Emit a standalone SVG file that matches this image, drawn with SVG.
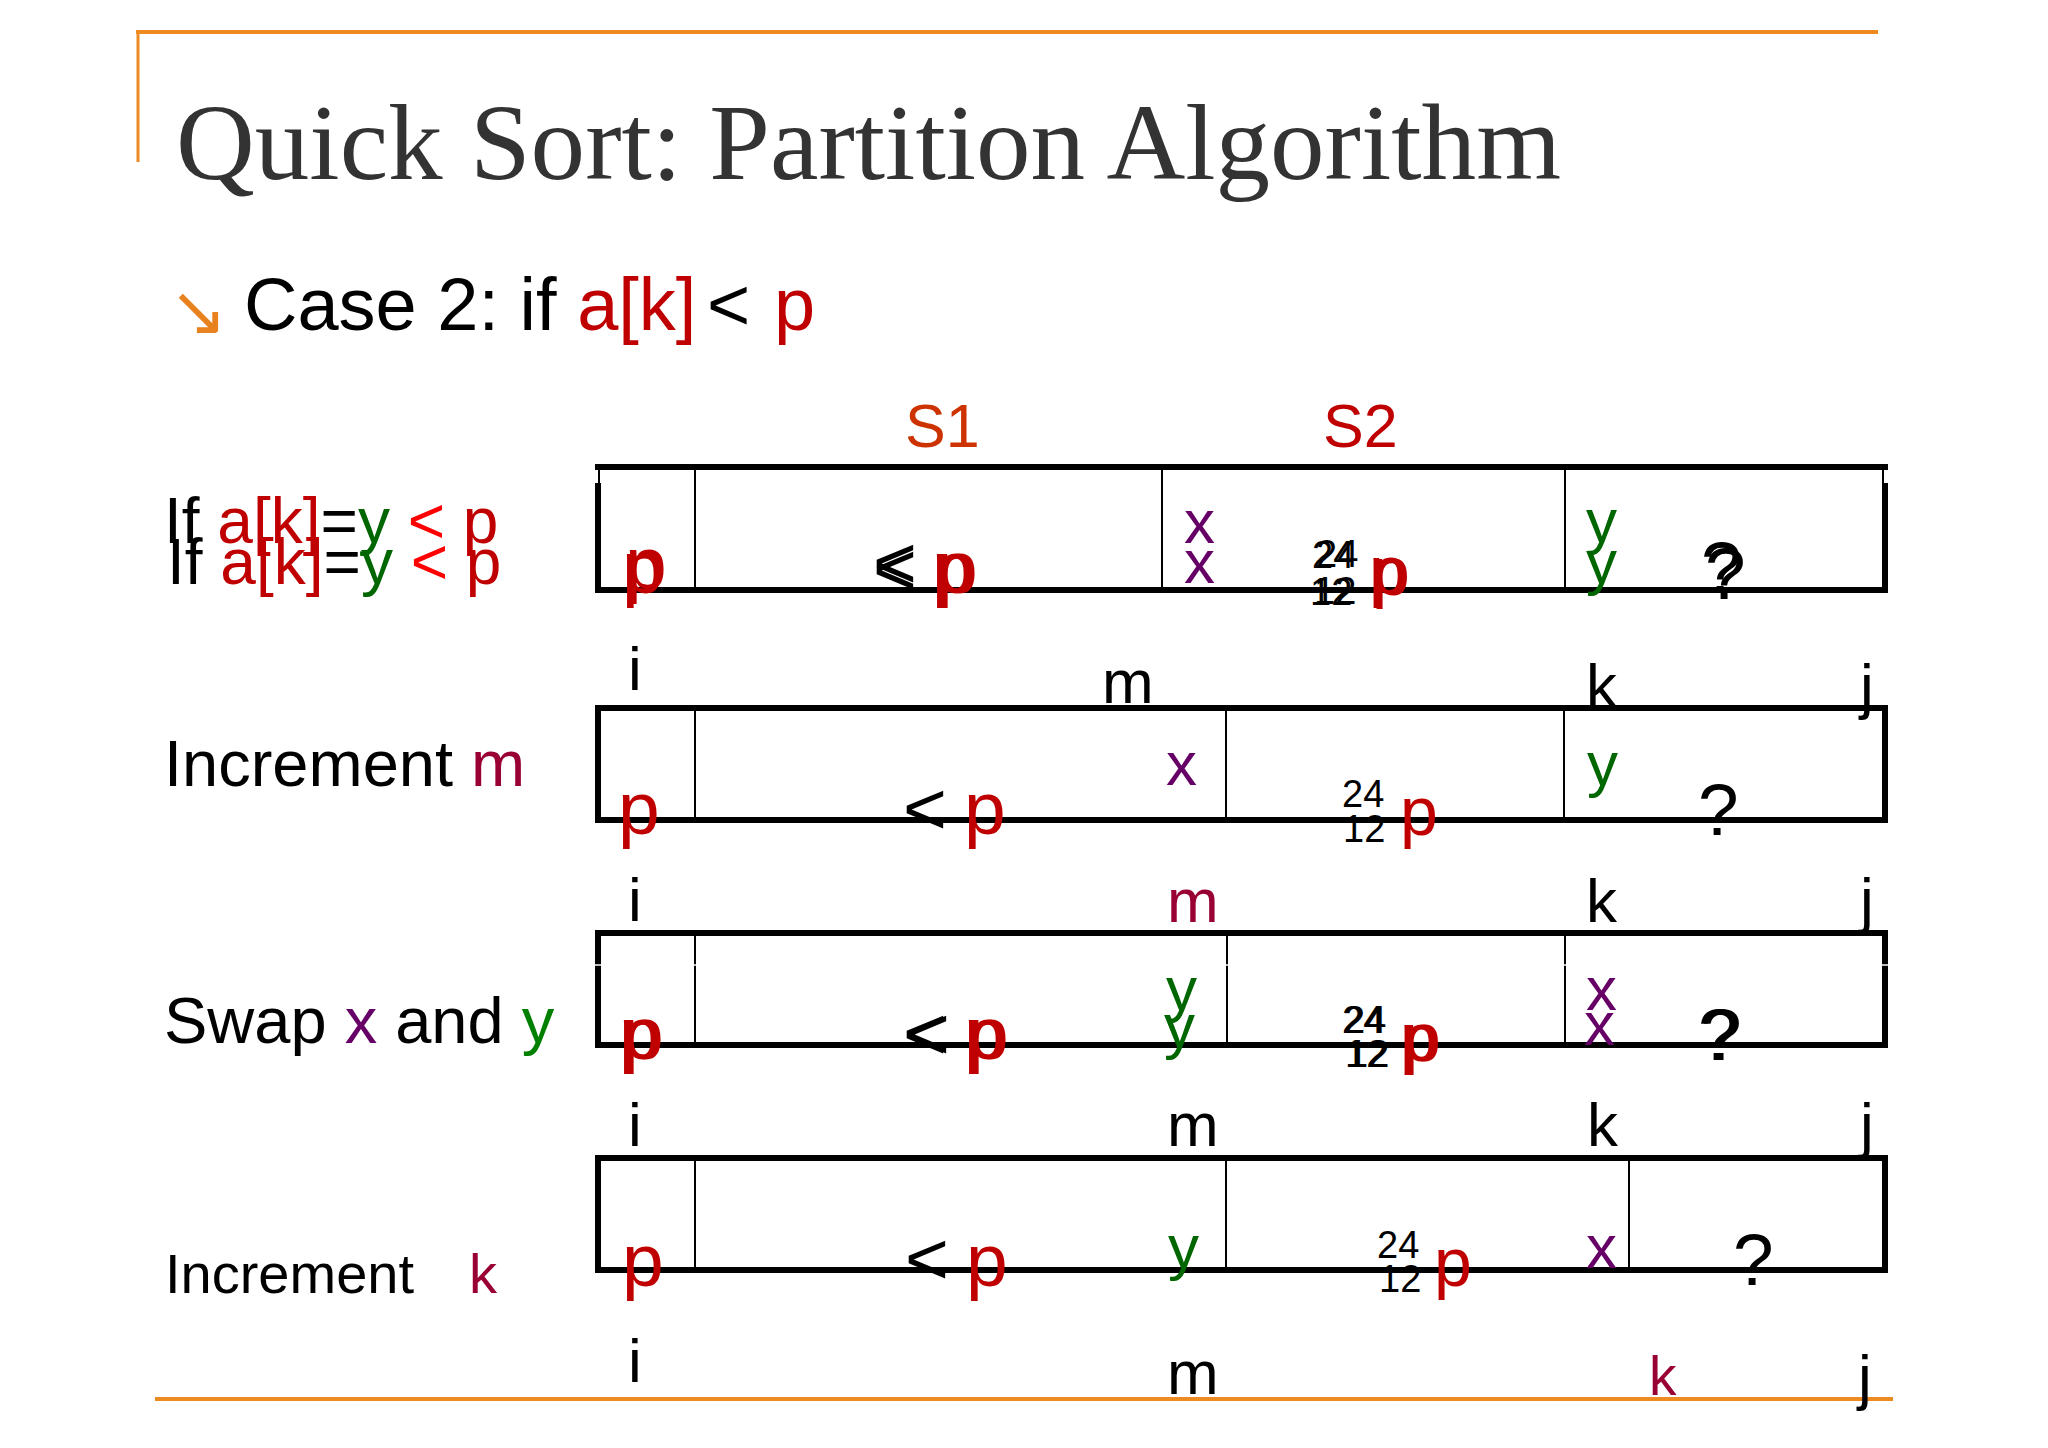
<svg xmlns="http://www.w3.org/2000/svg" width="2048" height="1448" viewBox="0 0 2048 1448">
<style>
text{font-family:"Liberation Sans",Arial,sans-serif;fill:#000}
.thick{stroke:#000;stroke-width:6;fill:none}
.thin{stroke:#000;stroke-width:2;fill:none}
.div{stroke:#000;stroke-width:2}
.wl{stroke:#fff;stroke-width:1.5}
.org{stroke:#EE8A22;fill:none}
.big{font-size:75px}
.pr{font-size:68px}
.q{font-size:73px}
.xy{font-size:62px}
.lab{font-size:62px}
.num{font-size:38px}
.red{fill:#C00000}
.bred{fill:#FF0000}
.pur{fill:#660066}
.grn{fill:#006600}
.lgrn{fill:#008000}
.dr{fill:#990033}
</style>
<rect width="2048" height="1448" fill="#fff"/>
<g id="frame">
<line class="org" x1="136" y1="32" x2="1878" y2="32" stroke-width="4"/>
<line class="org" x1="138" y1="30" x2="138" y2="162" stroke-width="3"/>
<line class="org" x1="155" y1="1399" x2="1893" y2="1399" stroke-width="4"/>
</g>
<g id="header">
<text x="176" y="179" font-family="Liberation Serif" style="font-family:'Liberation Serif',serif;fill:#333333" font-size="109" textLength="1385" lengthAdjust="spacingAndGlyphs">Quick Sort: Partition Algorithm</text>
<text x="169" y="335" style="font-family:'DejaVu Sans',sans-serif;fill:#E8821E" font-size="70">↘</text>
<text x="244" y="330" font-size="74">Case 2: if <tspan class="red">a[k]</tspan><tspan x="707">&lt; </tspan><tspan x="774" class="red">p</tspan></text>
<text x="905" y="447" font-size="61" style="fill:#CC3300">S1</text>
<text x="1323" y="447" font-size="61" class="red">S2</text>
</g>
<g id="row1">
<line class="thick" x1="595" y1="467" x2="1888" y2="467"/>
<line class="thick" x1="595" y1="590" x2="1888" y2="590"/>
<line class="thick" x1="598" y1="483" x2="598" y2="593"/>
<line class="thin" x1="599" y1="464" x2="599" y2="483"/>
<line class="thick" x1="1885" y1="483" x2="1885" y2="593"/>
<line class="thin" x1="1883" y1="464" x2="1883" y2="483"/>
<line class="div" x1="695" y1="467" x2="695" y2="590"/>
<line class="div" x1="1162" y1="467" x2="1162" y2="590"/>
<line class="div" x1="1565" y1="467" x2="1565" y2="590"/>
<text x="164" y="543" font-size="64">If <tspan class="red">a[k]</tspan>=<tspan class="grn">y</tspan> <tspan class="bred">&lt;</tspan> <tspan class="red">p</tspan></text>
<text x="167" y="584" font-size="64">If <tspan class="red">a[k]</tspan>=<tspan class="grn">y</tspan> <tspan class="bred">&lt;</tspan> <tspan class="red">p</tspan></text>
<text class="big red" x="622" y="593">p</text>
<text class="big red" x="625" y="589">p</text>
<text class="big" x="873" y="588">&lt;</text>
<text class="big" x="873" y="595">&lt;</text>
<text class="big red" x="932" y="593">p</text>
<text class="big red" x="936" y="593">p</text>
<text class="xy pur" x="1184" y="543">x</text>
<text class="xy pur" x="1184" y="583">x</text>
<text class="num" x="1312" y="568">24</text>
<text class="num" x="1316" y="567">24</text>
<text class="num" x="1310" y="605">12</text>
<text class="num" x="1314" y="604">12</text>
<text class="pr red" x="1369" y="594">p</text>
<text class="pr red" x="1372" y="595">p</text>
<text class="xy grn" x="1586" y="542">y</text>
<text class="xy grn" x="1586" y="583">y</text>
<text class="q" x="1701" y="593">?</text>
<text class="q" x="1705" y="599">?</text>
<text class="lab" x="628" y="690">i</text>
<text class="lab" x="1102" y="703">m</text>
<text class="lab" x="1586" y="707">k</text>
<text class="lab" x="1860" y="707">j</text>
</g>
<g id="row2">
<rect class="thick" x="598" y="708" width="1287" height="112"/>
<line class="div" x1="695" y1="708" x2="695" y2="820"/>
<line class="div" x1="1226" y1="708" x2="1226" y2="820"/>
<line class="div" x1="1564" y1="708" x2="1564" y2="820"/>
<text x="164" y="786" font-size="65">Increment <tspan class="dr">m</tspan></text>
<text class="big red" x="618" y="834">p</text>
<text class="big" x="903" y="834">&lt;</text>
<text class="big red" x="964" y="834">p</text>
<text class="xy pur" x="1166" y="785">x</text>
<text class="num" x="1342" y="807">24</text>
<text class="num" x="1343" y="842">12</text>
<text class="pr red" x="1400" y="835">p</text>
<text class="xy grn" x="1587" y="785">y</text>
<text class="q" x="1698" y="835">?</text>
<text class="lab" x="628" y="921">i</text>
<text class="lab dr" x="1167" y="922">m</text>
<text class="lab" x="1586" y="922">k</text>
<text class="lab" x="1860" y="921">j</text>
</g>
<g id="row3">
<rect class="thick" x="598" y="933" width="1287" height="112"/>
<line class="div" x1="695" y1="933" x2="695" y2="1045"/>
<line class="div" x1="1227" y1="933" x2="1227" y2="1045"/>
<line class="div" x1="1565" y1="933" x2="1565" y2="1045"/>
<line class="wl" x1="590" y1="965" x2="1892" y2="965"/>
<text x="164" y="1043" font-size="65">Swap <tspan class="pur">x</tspan> and <tspan class="lgrn">y</tspan></text>
<text class="big red" x="619" y="1059">p</text>
<text class="big red" x="622" y="1059">p</text>
<text class="big" x="903" y="1059">&lt;</text>
<text class="big" x="906" y="1059">&lt;</text>
<text class="big red" x="964" y="1059">p</text>
<text class="big red" x="967" y="1059">p</text>
<text class="xy grn" x="1166" y="1010">y</text>
<text class="xy grn" x="1164" y="1047">y</text>
<text class="num" x="1342" y="1033">24</text>
<text class="num" x="1344" y="1033">24</text>
<text class="num" x="1345" y="1067">12</text>
<text class="num" x="1347" y="1067">12</text>
<text class="pr red" x="1400" y="1061">p</text>
<text class="pr red" x="1403" y="1061">p</text>
<text class="xy pur" x="1586" y="1010">x</text>
<text class="xy pur" x="1584" y="1045">x</text>
<text class="q" x="1698" y="1060">?</text>
<text class="q" x="1701" y="1060">?</text>
<text class="lab" x="628" y="1146">i</text>
<text class="lab" x="1167" y="1146">m</text>
<text class="lab" x="1587" y="1146">k</text>
<text class="lab" x="1860" y="1146">j</text>
</g>
<g id="row4">
<rect class="thick" x="598" y="1158" width="1287" height="112"/>
<line class="div" x1="695" y1="1158" x2="695" y2="1270"/>
<line class="div" x1="1226" y1="1158" x2="1226" y2="1270"/>
<line class="div" x1="1629" y1="1158" x2="1629" y2="1270"/>
<text x="165" y="1293" font-size="56">Increment</text>
<text x="469" y="1293" font-size="56" class="dr">k</text>
<text class="big red" x="622" y="1286">p</text>
<text class="big" x="905" y="1284">&lt;</text>
<text class="big red" x="966" y="1286">p</text>
<text class="xy grn" x="1168" y="1268">y</text>
<text class="num" x="1377" y="1258">24</text>
<text class="num" x="1379" y="1292">12</text>
<text class="pr red" x="1434" y="1286">p</text>
<text class="xy pur" x="1586" y="1268">x</text>
<text class="q" x="1733" y="1285">?</text>
<text class="lab" x="628" y="1382">i</text>
<text class="lab" x="1167" y="1394">m</text>
<text class="dr" x="1649" y="1395" font-size="55">k</text>
<text class="lab" x="1858" y="1398">j</text>
</g>
</svg>
